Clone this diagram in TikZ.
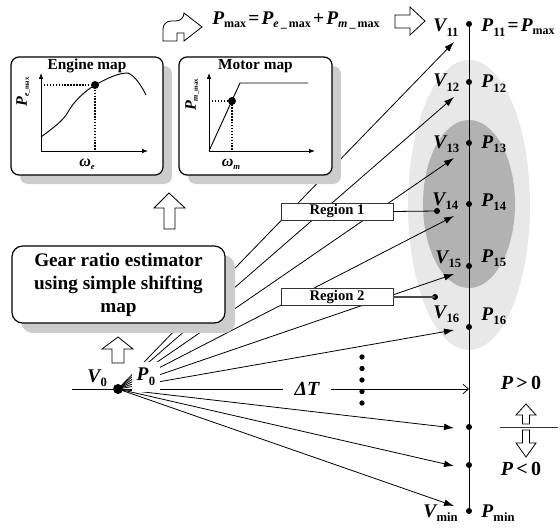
\documentclass[tikz,border=0pt]{standalone}
\usepackage{fontspec}
\setmainfont{Liberation Serif}
\usetikzlibrary{arrows.meta,shadows}
\newcommand\bigsz{\fontsize{14.5}{16}\selectfont}
\newcommand\subsz{\fontsize{9.5}{10}\selectfont}
\newcommand\lbl[2]{{\bigsz\bfseries\itshape #1}\kern0.3pt\raisebox{-3.5pt}{\subsz\bfseries #2}}
\newcommand\smx{\raisebox{-2pt}{\fontsize{9}{10}\selectfont\bfseries max}}
\begin{document}
\begin{tikzpicture}[x=0.75pt,y=-0.75pt,
  fan/.style={line width=0.6pt,-{Latex[length=7.5pt,width=5pt]}},
  vdot/.style={circle,fill=black,inner sep=0pt,minimum size=4.5pt},
  mdot/.style={circle,fill=black,inner sep=0pt,minimum size=6pt},
  lab/.style={inner sep=0pt,anchor=base west},
  mapbox/.style={draw=black,line width=0.9pt,rounded corners=6pt,fill=white,
    minimum width=114pt,minimum height=88.5pt,inner sep=0pt,
    general shadow={fill=black!20,shadow xshift=6.75pt,shadow yshift=-6.75pt}},
  regbox/.style={draw=black!80,line width=0.6pt,fill=white,minimum width=84pt,
    minimum height=12.75pt,inner sep=0pt,font=\fontsize{11}{12}\selectfont\bfseries},
  hollow/.style={draw=black,fill=white,line width=0.6pt,line join=miter},
  axis/.style={line width=0.7pt,-{Latex[length=4.5pt,width=3.5pt]}},
  dots/.style={line width=1.1pt,dash pattern=on 1.1pt off 1.1pt}
]
\useasboundingbox (0,0) rectangle (560,528);
% ellipses
\fill[black!9] (469,205) ellipse [x radius=61,y radius=145];
\fill[black!30] (469,204) ellipse [x radius=46,y radius=84];
% fan
\coordinate (O) at (118,389);
\coordinate (t11) at (454,42);
\coordinate (t12) at (454,97);
\coordinate (t13) at (454,158);
\coordinate (t14) at (454,216);
\coordinate (t15) at (454,274);
\coordinate (t16) at (454,330);
\coordinate (t17) at (454,428);
\coordinate (t18) at (454,466);
\coordinate (t19) at (454,506);
\coordinate (hT) at (469,389);
\coordinate (V0l) at (72,389);
\foreach \t in {t11,t12,t13,t14,t15,t16,t17,t18,t19} \draw[fan] (O) -- (\t);
\draw[line width=0.6pt,-{Straight Barb[length=4pt,width=7pt]}] (O) -- (hT);
\draw[line width=0.6pt] (V0l) -- (O);
% vertical line and dots
\node[vdot] (d11) at (469,24) {};
\node[vdot] (d12) at (469,82) {};
\node[vdot] (d13) at (469,143) {};
\node[vdot] (d14) at (469,204) {};
\node[vdot] (d15) at (469,266) {};
\node[vdot] (d16) at (469,327) {};
\node[vdot] (d17) at (469,427) {};
\node[vdot] (d18) at (469,465) {};
\node[vdot] (dmin) at (469,511) {};
\draw[line width=0.7pt] (d11.center) -- (dmin.center);
% ellipsis dots
\foreach \y [count=\i] in {357,368.5,380,391.5,403} \node[vdot,minimum size=4pt] (e\i) at (362,\y) {};
% origin dot
\node[circle,fill=black,inner sep=0pt,minimum size=7.5pt] (od) at (O) {};
% map boxes
\node[mapbox] (eng) at (87,116) {};
\node[mapbox,minimum width=114.75pt] (mot) at (255.5,116) {};
\node[font=\fontsize{11.5}{12}\selectfont\bfseries] (engt) at (87,66) {Engine map};
\node[font=\fontsize{11.5}{12}\selectfont\bfseries] (mott) at (255.5,66) {Motor map};
% engine map content
\draw[axis] (41,151) -- (41,73);
\draw[axis] (41,151) -- (148,151);
\draw[line width=0.7pt] (41,137) .. controls (53,128) and (63,121) .. (68,112)
  .. controls (74,101) and (85,91) .. (95,85) .. controls (108,78) and (118,73) .. (128,73)
  .. controls (135,76) and (141,85) .. (146,95);
\draw[dots] (41,85) -- (95,85) -- (95,151);
\node[mdot] (edot) at (95,85) {};
\node[rotate=90,inner sep=0pt] (ep) at (23,92) {{\fontsize{12}{12}\selectfont\bfseries\itshape P}\raisebox{-1.5pt}{\fontsize{6}{6}\selectfont\bfseries\itshape e}\raisebox{-1.5pt}{\fontsize{5}{6}\selectfont\bfseries\_max}};
\node[inner sep=0pt] (ew) at (87,164) {{\fontsize{12}{12}\selectfont\bfseries\itshape ω}\raisebox{-2pt}{\fontsize{6.5}{7}\selectfont\bfseries\itshape e}};
% motor map content
\draw[axis] (209,151) -- (209,73);
\draw[axis] (209,151) -- (315,151);
\draw[line width=0.7pt] (209,151) -- (240,83) -- (308,83);
\draw[dots] (209,101) -- (232,101) -- (232,151);
\node[mdot] (mdt) at (232,101) {};
\node[rotate=90,inner sep=0pt] (mp) at (192,95) {{\fontsize{12}{12}\selectfont\bfseries\itshape P}\raisebox{-1.5pt}{\fontsize{6}{6}\selectfont\bfseries\itshape m}\raisebox{-1.5pt}{\fontsize{5}{6}\selectfont\bfseries\_max}};
\node[inner sep=0pt] (mw) at (231,164) {{\fontsize{12}{12}\selectfont\bfseries\itshape ω}\raisebox{-2pt}{\fontsize{6.5}{7}\selectfont\bfseries\itshape m}};
% gear box
\node[mapbox,rounded corners=8pt,minimum width=159.75pt,minimum height=57.75pt,
  general shadow={fill=black!20,shadow xshift=7.5pt,shadow yshift=-7.5pt},
  align=center,font=\fontsize{14.4}{17.25}\selectfont\bfseries] (gear) at (118.5,284.5)
  {Gear ratio estimator\\using simple shifting\\map};
% regions
\node[regbox] (r1) at (337,211.5) {Region 1};
\node[regbox] (r2) at (337,297) {Region 2};
\node[vdot] (rd1) at (437,211) {};
\node[vdot] (rd2) at (435,297) {};
\draw[line width=0.6pt] (r1.east) -- (rd1.center);
\draw[line width=1pt,black!70] (r2.east) -- (rd2.center);
% hollow arrows
\draw[hollow] (163,41) {[rounded corners=6pt] -- (163,21) -- (184,21)} -- (184,13) -- (202,27) -- (184,41) -- (184,33) -- (177,33) -- (177,41) -- cycle;
\draw[hollow] (395,15) -- (410,15) -- (410,7) -- (425,21) -- (410,35) -- (410,28) -- (395,28) -- cycle;
\draw[hollow] (169,193) -- (185,208) -- (175,208) -- (175,229) -- (164,229) -- (164,208) -- (154,208) -- cycle;
\draw[hollow] (118,337) -- (133,349) -- (124,349) -- (124,363) -- (112,363) -- (112,349) -- (102,349) -- cycle;
\draw[hollow] (526,404) -- (536,415) -- (529.5,415) -- (529.5,424) -- (522.5,424) -- (522.5,415) -- (516,415) -- cycle;
\draw[hollow] (526,457) -- (536,443) -- (529.5,443) -- (529.5,430) -- (522.5,430) -- (522.5,443) -- (516,443) -- cycle;
\coordinate (hl1) at (500,427);
\coordinate (hl2) at (558,427);
\draw[line width=0.7pt,black!80] (hl1) -- (hl2);
% formula
\node[lab] (form) at (212,25) {{\bigsz\bfseries\itshape P}\smx\,{\bigsz\bfseries =}\,{\bigsz\bfseries\itshape P}\raisebox{-2pt}{\fontsize{9}{10}\selectfont\bfseries\itshape e}\,\raisebox{-2pt}{\fontsize{9}{10}\selectfont\bfseries\_\,max}\,{\bigsz\bfseries +}\,{\bigsz\bfseries\itshape P}\raisebox{-2pt}{\fontsize{9}{10}\selectfont\bfseries\itshape m}\,\raisebox{-2pt}{\fontsize{9}{10}\selectfont\bfseries\_\,max}};
% labels
\node[lab] (lV11) at (433,32) {\lbl{V}{11}};
\node[lab] (lP11) at (481,32) {\lbl{P}{11}\,{\bigsz\bfseries =}\,{\bigsz\bfseries\itshape P}\smx};
\node[lab] (lV12) at (433,87) {\lbl{V}{12}};
\node[lab] (lP12) at (481,88) {\lbl{P}{12}};
\node[lab] (lV13) at (433,148) {\lbl{V}{13}};
\node[lab] (lP13) at (481,148) {\lbl{P}{13}};
\node[lab] (lV14) at (432,205) {\lbl{V}{14}};
\node[lab] (lP14) at (481,206) {\lbl{P}{14}};
\node[lab] (lV15) at (435,263) {\lbl{V}{15}};
\node[lab] (lP15) at (481,262) {\lbl{P}{15}};
\node[lab] (lV16) at (433,318) {\lbl{V}{16}};
\node[lab] (lP16) at (481,320) {\lbl{P}{16}};
\node[lab] (lVmin) at (423,517) {\lbl{V}{min}};
\node[lab] (lPmin) at (481,517) {\lbl{P}{min}};
\node[lab] (lV0) at (87,382) {\lbl{V}{0}};
\node[fill=white,inner sep=0pt,minimum width=21pt,minimum height=22pt] (lP0) at (146,377) {\lbl{P}{0}};
\node[fill=white,inner xsep=9pt,inner ysep=2pt] (dT) at (307,389) {\fontsize{15}{16}\selectfont\bfseries\itshape ΔT};
\node[inner sep=0pt] (pg) at (521,383) {\fontsize{15}{16}\selectfont\bfseries{\itshape P}\,>\,0};
\node[inner sep=0pt] (pl) at (521,469) {\fontsize{15}{16}\selectfont\bfseries{\itshape P}\,<\,0};
\end{tikzpicture}
\end{document}
